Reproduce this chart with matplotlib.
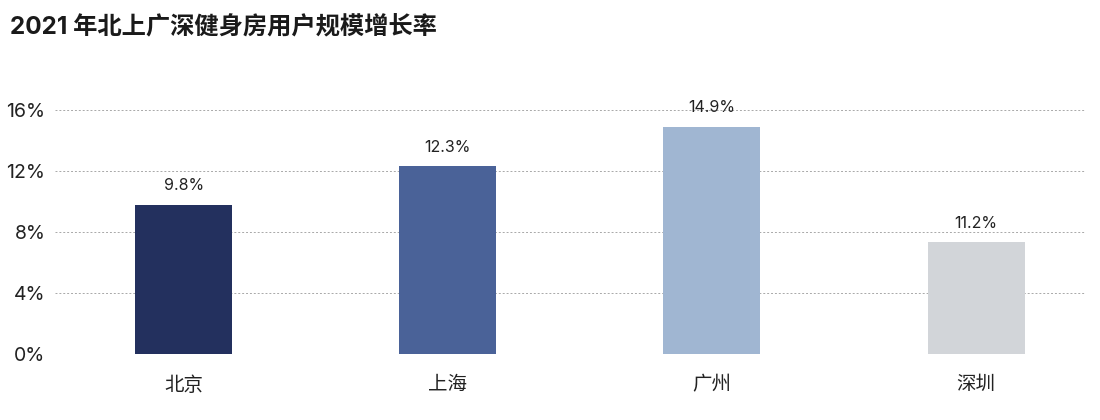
import matplotlib
matplotlib.use("Agg")
import matplotlib.pyplot as plt
from matplotlib.ticker import FuncFormatter

plt.rcParams['font.family'] = ['Inter', 'Noto Sans CJK SC', 'DejaVu Sans']

categories = ['北京', '上海', '广州', '深圳']
bar_values = [9.8, 12.3, 14.9, 7.35]
value_labels = ['9.8%', '12.3%', '14.9%', '11.2%']
colors = ['#23305e', '#4a6298', '#a0b6d2', '#d2d5d9']
yticks = [0, 4, 8, 12, 16]
title = '2021 年北上广深健身房用户规模增长率'

fig = plt.figure(figsize=(11, 4.2), dpi=100)
ax = fig.add_axes([0.05, 0.157, 0.936, 0.581])

x = list(range(len(categories)))
ax.bar(x, bar_values, width=0.367, color=colors, zorder=3)
for xi, v, lab in zip(x, bar_values, value_labels):
    ax.text(xi, v + 0.75, lab, ha='center', va='bottom', fontsize=11.5,
            color='#222222', clip_on=False)

ax.set_xlim(-0.487, 3.411)
ax.set_ylim(0, 16)
ax.set_yticks(yticks)
ax.yaxis.set_major_formatter(FuncFormatter(lambda v, p: f'{int(v)}%'))
ax.set_xticks(x)
ax.set_xticklabels(categories)
ax.tick_params(axis='both', length=0, labelsize=14, colors='#222222')
ax.tick_params(axis='x', pad=16)
ax.tick_params(axis='y', pad=7)
ax.grid(axis='y', linestyle=(0, (2, 2)), color='#a8a8a8', linewidth=0.7, zorder=0)
for s in ax.spines.values():
    s.set_visible(False)

fig.text(0.009, 0.935, title, fontsize=17.5, fontweight='bold', color='#1a1a1a',
         ha='left', va='center')

fig.savefig('out.png', dpi=100)
